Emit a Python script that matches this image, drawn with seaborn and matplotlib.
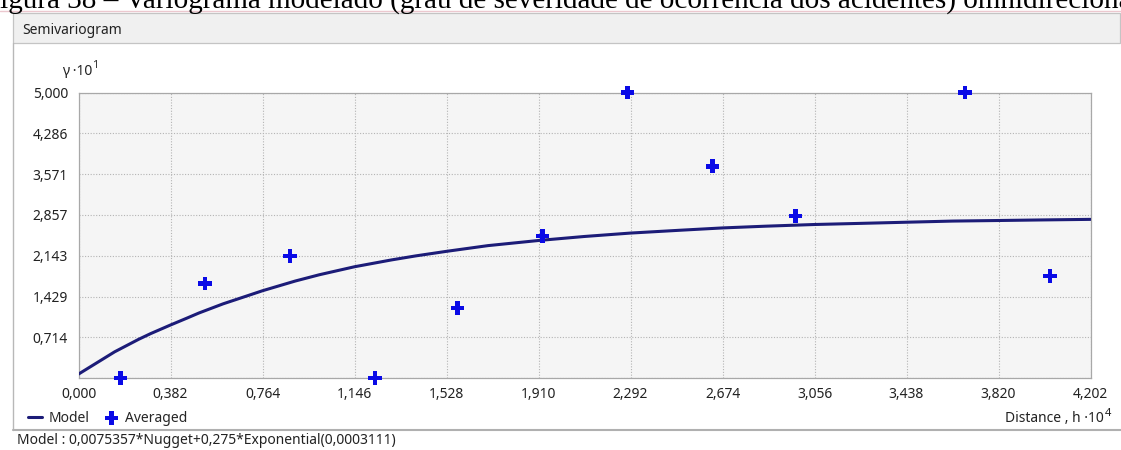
import matplotlib
matplotlib.use("Agg")
import matplotlib.pyplot as plt
import seaborn as sns
from matplotlib.patches import Rectangle
from matplotlib.lines import Line2D

# Averaged semivariance per lag (distance in 10^4, gamma in 10^1)
lag_h = [0.175, 0.525, 0.878, 1.231, 1.574, 1.927, 2.280, 2.632, 2.978, 3.681, 4.034]
lag_g = [0.0, 1.66, 2.14, 0.0, 1.23, 2.49, 5.0, 3.71, 2.84, 5.0, 1.79]

# Fitted model curve
model_h = [0.0, 0.05, 0.1, 0.15, 0.2, 0.25, 0.3, 0.382, 0.45, 0.5, 0.6, 0.7, 0.764,
           0.9, 1.0, 1.146, 1.3, 1.4, 1.528, 1.7, 1.91, 2.1, 2.292, 2.5, 2.674,
           2.85, 3.056, 3.25, 3.438, 3.63, 3.82, 4.0, 4.202]
model_g = [0.07, 0.20, 0.33, 0.46, 0.57, 0.68, 0.78, 0.93, 1.05, 1.14, 1.30, 1.44, 1.53,
           1.70, 1.81, 1.95, 2.07, 2.14, 2.22, 2.32, 2.41, 2.48, 2.54, 2.59, 2.63,
           2.66, 2.69, 2.71, 2.73, 2.75, 2.76, 2.77, 2.78]

x_ticks = [0.0, 0.382, 0.764, 1.146, 1.528, 1.910, 2.292, 2.674, 3.056, 3.438, 3.820, 4.202]
y_ticks = [0.0, 0.714, 1.429, 2.143, 2.857, 3.571, 4.286, 5.000]

caption = ("Figura 38 \u2013 Variograma modelado (grau de severidade de ocorr\u00eancia "
           "dos acidentes) omnidirecional")
model_text = "Model : 0,0075357*Nugget+0,275*Exponential(0,0003111)"

W, H = 1121, 450


def fx(px):
    return px / W


def fy(py):
    return 1 - py / H


def fmt(v):
    return f"{v:.3f}".replace(".", ",")


sns.set_style("white")
plt.rcParams["font.family"] = ["Noto Sans", "DejaVu Sans"]

fig = plt.figure(figsize=(W / 100, H / 100), dpi=100)
fig.patch.set_facecolor("white")

# window chrome
fig.add_artist(Line2D([0, 1], [fy(11), fy(11)], color="#ecc8cf", lw=1,
                      transform=fig.transFigure))
fig.add_artist(Rectangle((fx(13), fy(43)), fx(1120) - fx(13), (43 - 13) / H,
                         facecolor="#f0f0f0", edgecolor="#c4c4c4", lw=0.9,
                         transform=fig.transFigure))
fig.add_artist(Line2D([fx(13), fx(13)], [fy(43), fy(430)], color="#b8b8b8", lw=1,
                      transform=fig.transFigure))
fig.add_artist(Line2D([fx(13), fx(1121)], [fy(430), fy(430)], color="#b0b0b0", lw=1.5,
                      transform=fig.transFigure))
fig.text(fx(22), fy(30), "Semivariogram", va="center", ha="left", size=10, color="#222222")
fig.text(fx(-16), fy(8), caption, va="baseline", ha="left", size=21,
         family=["Liberation Serif", "DejaVu Serif"], color="black")

ax = fig.add_axes([fx(78.5), fy(378.1), (1090.5 - 78.5) / W, (378.1 - 92.6) / H])
ax.set_facecolor("#f5f5f5")

sns.lineplot(x=model_h, y=model_g, ax=ax, color="#1c1c78", linewidth=2.2,
             sort=False, estimator=None, label="Model", legend=False, zorder=4)
sns.scatterplot(x=lag_h, y=lag_g, ax=ax, marker="P", s=95, color="#0a0ae6",
                edgecolor="none", linewidth=0, label="Averaged", legend=False,
                clip_on=False, zorder=5)
if ax.get_legend():
    ax.get_legend().remove()

ax.set_xlim(0, 4.202)
ax.set_ylim(0, 5)
ax.set_xticks(x_ticks)
ax.set_xticklabels([fmt(v) for v in x_ticks])
ax.set_yticks(y_ticks)
ax.set_yticklabels([""] + [fmt(v) for v in y_ticks[1:]])
ax.tick_params(axis="x", length=0, pad=6.5, labelsize=10, labelcolor="#222222")
ax.tick_params(axis="y", length=0, pad=7.5, labelsize=10, labelcolor="#222222")
ax.grid(True, color="#b4b4b4", linestyle=(0, (1, 1.5)), linewidth=0.8)
for s in ax.spines.values():
    s.set_visible(True)
    s.set_color("#a8a8a8")
    s.set_linewidth(0.9)
ax.set_xlabel("")
ax.set_ylabel("")

# axis captions
fig.text(fx(92), fy(71), "\u03b3 \u00b710", va="center", ha="right", size=10, color="#222222")
fig.text(fx(92.5), fy(66), "1", va="center", ha="left", size=8, color="#222222")
fig.text(fx(1104), fy(418.5), "Distance , h \u00b710", va="center", ha="right", size=10,
         color="#222222")
fig.text(fx(1104.5), fy(413), "4", va="center", ha="left", size=8, color="#222222")

handles, labels = ax.get_legend_handles_labels()
fig.legend(handles, labels, loc="center left", bbox_to_anchor=(fx(28), fy(418)),
           ncol=2, frameon=False, handlelength=1.0, handletextpad=0.5,
           columnspacing=1.05, borderpad=0, borderaxespad=0, fontsize=10)

fig.text(fx(17), fy(440), model_text, va="center", ha="left", size=10, color="#222222")

fig.savefig("out.png", dpi=100)
